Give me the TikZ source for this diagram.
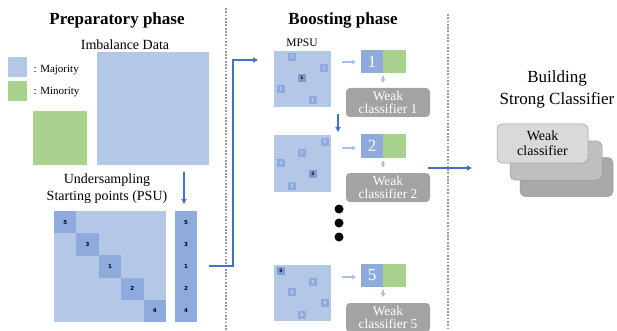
\documentclass[tikz,border=0pt]{standalone}
\usepackage{fontspec}
\setmainfont{Liberation Serif}
\newfontfamily\cellfont{DejaVu Sans}
\usetikzlibrary{arrows.meta}
\definecolor{lblue}{HTML}{B4C7E7}
\definecolor{cblue}{HTML}{8FAADC}
\definecolor{hblue}{HTML}{7E9BD2}
\definecolor{mgreen}{HTML}{A9D18E}
\definecolor{wgray}{HTML}{A3A3A3}
\definecolor{ablue}{HTML}{4472C4}
\definecolor{lablue}{HTML}{A4C2EA}
\definecolor{dotgray}{HTML}{9A9A9A}
\definecolor{sfront}{HTML}{D9D9D9}
\definecolor{smid}{HTML}{BFBFBF}
\definecolor{sback}{HTML}{A9A9A9}
\tikzset{
  blk/.style={inner sep=0pt, outer sep=0pt},
  sq/.style={blk, fill=lblue, minimum width=57pt, minimum height=56pt},
  cell/.style={blk, fill=cblue, minimum size=8pt, text=white, font=\cellfont\fontsize{4}{4}\selectfont},
  hcell/.style={blk, fill=hblue, minimum size=8pt, text=black, font=\cellfont\bfseries\fontsize{4.5}{4.5}\selectfont},
  dcell/.style={blk, fill=cblue, minimum size=22.4pt, text=black, font=\cellfont\bfseries\fontsize{5.5}{5.5}\selectfont},
  numbox/.style={blk, fill=cblue, minimum width=22pt, minimum height=23pt, text=white, font=\fontsize{17}{17}\selectfont},
  grbox/.style={blk, fill=mgreen, minimum width=23pt, minimum height=23pt},
  weak/.style={blk, fill=wgray, rounded corners=4pt, minimum width=84pt, minimum height=29pt, text=white, align=center, font=\fontsize{13.5}{13.5}\selectfont},
  stack/.style={blk, draw=gray!80, line width=0.5pt, rounded corners=5pt, minimum width=92pt, minimum height=39pt, align=center, font=\fontsize{14}{15}\selectfont},
  barrow/.style={draw=ablue, line width=1.3pt, -{Triangle[length=5pt,width=5pt]}},
  larrow/.style={draw=lablue, line width=1.1pt, -{Triangle[length=4pt,width=4.5pt]}},
  sepline/.style={draw=dotgray, line width=1.8pt, dash pattern=on 1.8pt off 1.5pt},
  title/.style={font=\bfseries\fontsize{17}{17}\selectfont},
  lbl/.style={font=\fontsize{14}{15}\selectfont, align=center},
  leg/.style={font=\fontsize{11}{11}\selectfont, anchor=west}
}
\begin{document}
\begin{tikzpicture}[x=1pt,y=-1pt]
\useasboundingbox (0,0) rectangle (617,331);
\fill[white] (0,0) rectangle (617,331);

% separators
\draw[sepline] (226,8) -- (226,331);
\draw[sepline] (448,14) -- (448,331);

% ---------------- Preparatory phase
\node[title] (t1) at (117,20) {Preparatory phase};
\node[lbl] (imb) at (125,45) {Imbalance Data};
\node[blk, fill=lblue, minimum width=112pt, minimum height=113pt] (big) at (153,108.5) {};
\node[blk, fill=mgreen, minimum width=54pt, minimum height=54pt] (small) at (60,138) {};
\node[blk, fill=lblue, minimum width=19pt, minimum height=20pt] (legb) at (17.5,67) {};
\node[blk, fill=mgreen, minimum width=19pt, minimum height=20pt] (legg) at (17.5,91) {};
\node[leg] (legbt) at (30,70) {: Majority};
\node[leg] (leggt) at (30,92) {: Minority};

\node[lbl, font=\fontsize{14}{17}\selectfont] (under) at (107,188.5) {Undersampling\\Starting points (PSU)};

\node[blk, fill=lblue, minimum width=112pt, minimum height=111pt] (psu) at (110,266.5) {};
\foreach \v [count=\i from 0] in {5,3,1,2,4}{
  \node[dcell] (d\i) at (65.2+22.4*\i, 222.1+22.2*\i) {\v};
}
\node[blk, fill=cblue, minimum width=22pt, minimum height=111pt] (col) at (186,266.5) {};
\foreach \v [count=\i from 0] in {5,3,1,2,4}{
  \node[blk, text=black, font=\cellfont\bfseries\fontsize{5.5}{5.5}\selectfont] (c\i) at (186, 222.1+22.2*\i) {\v};
}
\coordinate (arrtop) at (184,172);
\draw[barrow] (arrtop) -- (arrtop |- 0,204);

% long connector
\coordinate (lstart) at (209,266);
\coordinate (lend) at (258,60);
\draw[barrow] (lstart) -- (233,266) |- (lend);

% ---------------- Boosting phase
\node[title] (t2) at (343,20) {Boosting phase};
\node[font=\fontsize{11.5}{11.5}\selectfont] (mpsu) at (302,43) {MPSU};

% square 1
\node[sq] (s1) at (302.5,79.5) {};
\node[cell] at (292,57) {1};
\node[cell] at (324,68) {1};
\node[hcell] at (302,78) {1};
\node[cell] at (281,89) {1};
\node[cell] at (313,100) {1};
% square 2
\node[sq] (s2) at (302.5,163.5) {};
\node[cell] at (325,142) {2};
\node[cell] at (302,153) {2};
\node[cell] at (281,163) {2};
\node[hcell] at (313,174) {2};
\node[cell] at (292,186) {2};
% square 5
\node[sq] (s5) at (302.5,292.5) {};
\node[hcell] at (281,271) {5};
\node[cell] at (313,282) {5};
\node[cell] at (292,292) {5};
\node[cell] at (325,303) {5};
\node[cell] at (302,315) {5};

% number boxes
\node[numbox] (n1) at (372,61.5) {1};
\node[grbox] (g1) at (394.5,61.5) {};
\node[numbox] (n2) at (372,146) {2};
\node[grbox] (g2) at (394.5,146) {};
\node[numbox] (n5) at (372,275.5) {5};
\node[grbox] (g5) at (394.5,275.5) {};

% light arrows
\draw[larrow] (342,62) -- (356,62);
\draw[larrow] (342,148) -- (356,148);
\draw[larrow] (342,277) -- (356,277);

% weak classifiers
\node[weak] (w1) at (388,102.5) {Weak\\classifier 1};
\node[weak] (w2) at (388,187.5) {Weak\\classifier 2};
\node[weak] (w5) at (388,317.5) {Weak\\classifier 5};

\draw[larrow] (n1.south east) ++(0,3) -- ++(0,7);
\draw[larrow] (n2.south east) ++(0,3) -- ++(0,7);
\draw[larrow] (n5.south east) ++(0,3) -- ++(0,7);

% down arrow between rounds
\coordinate (dtop) at (338,114);
\draw[barrow] (dtop) -- (338,132);

% dots
\fill (339,209) circle (4.5pt);
\fill (339,223) circle (4.5pt);
\fill (339,237) circle (4.5pt);

% arrow to strong classifier
\coordinate (rstart) at (428,168);
\draw[barrow] (rstart) -- (472,168);

% ---------------- Strong classifier
\node[lbl, font=\fontsize{17}{22}\selectfont] (bsc) at (557,89) {Building\\Strong Classifier};
\node[stack, fill=sback, minimum width=93pt] (k3) at (566.5,177) {};
\node[stack, fill=smid] (k2) at (556,160.5) {};
\node[stack, fill=sfront, minimum width=91pt] (k1) at (542.5,143.5) {Weak\\classifier};
\end{tikzpicture}
\end{document}
